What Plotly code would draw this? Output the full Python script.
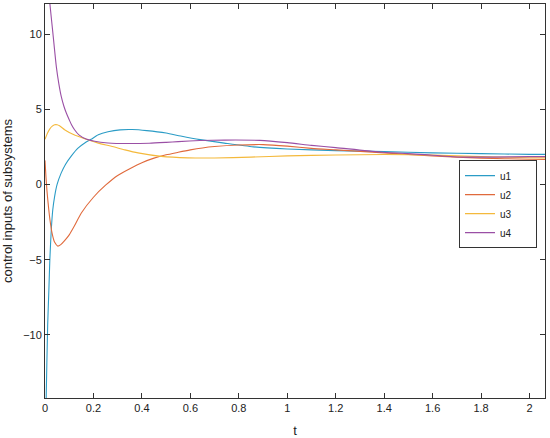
import plotly.graph_objects as go

t_u1 = [0, 0.005, 0.011, 0.016, 0.02, 0.026, 0.032, 0.04, 0.05, 0.067, 0.085, 0.109, 0.135, 0.164,
        0.19, 0.22, 0.26, 0.31, 0.36, 0.42, 0.5, 0.56, 0.64, 0.74, 0.86, 1.0, 1.2, 1.4, 1.6, 1.8, 2.0, 2.07]
u1 = [-20, -14.1, -9.4, -7.0, -5.0, -3.0, -1.7, -0.77, 0.0, 0.77, 1.35, 1.9, 2.4, 2.76,
      3.0, 3.3, 3.5, 3.63, 3.65, 3.58, 3.42, 3.22, 2.98, 2.75, 2.5, 2.36, 2.25, 2.18, 2.1, 2.05, 2.0, 2.0]

t_u2 = [0, 0.004, 0.008, 0.012, 0.02, 0.03, 0.04, 0.053, 0.065, 0.08, 0.1, 0.12, 0.15, 0.2, 0.25,
        0.3, 0.35, 0.4, 0.45, 0.5, 0.55, 0.6, 0.65, 0.7, 0.8, 0.9, 1.0, 1.1, 1.2, 1.4, 1.6, 1.8, 2.0, 2.07]
u2 = [1.6, 0.5, -0.4, -1.1, -2.3, -3.3, -3.85, -4.1, -4.0, -3.75, -3.35, -2.8, -1.9, -0.85, -0.05,
      0.6, 1.05, 1.45, 1.75, 1.97, 2.14, 2.3, 2.43, 2.52, 2.62, 2.65, 2.55, 2.4, 2.3, 2.1, 1.9, 1.75, 1.68, 1.66]

t_u3 = [0, 0.01, 0.02, 0.03, 0.04, 0.05, 0.06, 0.081, 0.1, 0.12, 0.15, 0.18, 0.22, 0.274, 0.33,
        0.384, 0.48, 0.59, 0.7, 0.85, 1.0, 1.2, 1.4, 1.6, 1.8, 2.0, 2.07]
u3 = [3.0, 3.4, 3.7, 3.88, 3.97, 3.97, 3.9, 3.64, 3.45, 3.3, 3.12, 2.95, 2.75, 2.54, 2.3,
      2.1, 1.87, 1.77, 1.76, 1.82, 1.9, 1.96, 1.99, 1.95, 1.85, 1.78, 1.77]

t_u4 = [0, 0.01, 0.019, 0.033, 0.047, 0.057, 0.067, 0.078, 0.088, 0.1, 0.11, 0.122, 0.14, 0.17,
        0.205, 0.26, 0.343, 0.43, 0.5, 0.55, 0.64, 0.742, 0.887, 1.0, 1.1, 1.2, 1.38, 1.55, 1.71,
        1.85, 2.0, 2.07]
u4 = [16, 13.8, 12.2, 10.0, 7.8, 6.7, 5.85, 5.2, 4.75, 4.3, 3.95, 3.64, 3.3, 3.02,
      2.87, 2.76, 2.72, 2.74, 2.8, 2.85, 2.92, 2.95, 2.93, 2.78, 2.6, 2.45, 2.16, 2.0, 1.83,
      1.82, 1.85, 1.85]

series = [
    ("u1", t_u1, u1, "#2b9cc6"),
    ("u2", t_u2, u2, "#e06a3c"),
    ("u3", t_u3, u3, "#f4b93c"),
    ("u4", t_u4, u4, "#9a4fa5"),
]

fig = go.Figure()
for name, t, u, color in series:
    fig.add_trace(go.Scatter(
        x=t, y=u, name=name + "\u00a0" * 7, mode="lines",
        line=dict(color=color, width=1.1, shape="spline", smoothing=0.6),
    ))

axis_style = dict(
    showline=True, mirror="ticks", linecolor="#333333", linewidth=1,
    ticks="inside", ticklen=5, tickcolor="#333333",
    showgrid=False, zeroline=False, automargin=False,
)

fig.update_layout(
    width=550, height=438,
    margin=dict(l=45, r=5, t=4, b=40),
    paper_bgcolor="white", plot_bgcolor="white",
    font=dict(family="Liberation Sans, Arial, sans-serif", size=11, color="#222222"),
    xaxis=dict(range=[0, 2.064], tickvals=[0, 0.2, 0.4, 0.6, 0.8, 1, 1.2, 1.4, 1.6, 1.8, 2],
               title=dict(text="t"), **axis_style),
    yaxis=dict(range=[-14.2, 12], tickvals=[-10, -5, 0, 5, 10],
               title=dict(text="control inputs of subsystems"), **axis_style),
    legend=dict(x=0.828, y=0.492, xanchor="left", yanchor="middle",
                bordercolor="#333333", borderwidth=1, bgcolor="white",
                font=dict(size=10), tracegroupgap=0, itemwidth=30),
    showlegend=True,
)

# drop the browser's default page margin so the figure sits at the top-left corner
fig.write_html("out.html", config={"displayModeBar": False},
               post_script="document.body.style.margin='0px';")
